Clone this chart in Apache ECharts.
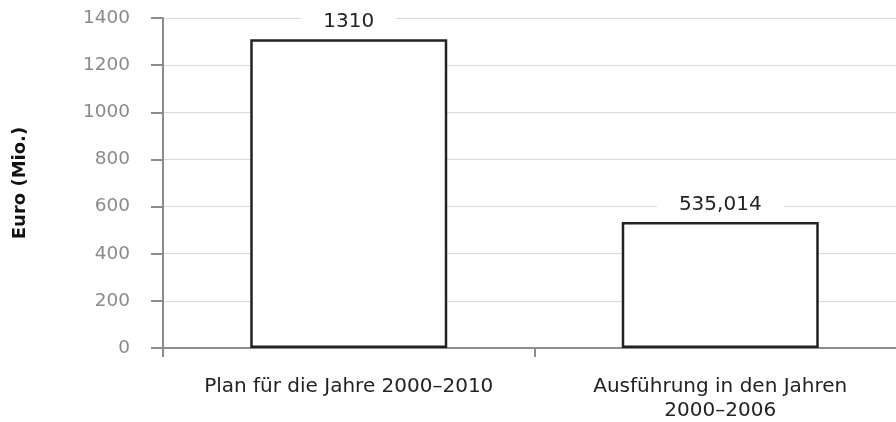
<!DOCTYPE html>
<html>
<head>
<meta charset="utf-8">
<script src="https://cdn.jsdelivr.net/npm/echarts@6/dist/echarts.min.js"></script>
<style>
  html, body { margin: 0; padding: 0; background: #fff; }
  #chart { width: 896px; height: 422px; }
</style>
</head>
<body>
<div id="chart"></div>
<script>
// Budget: planned vs. executed (million euro)
const categories = ['Plan für die Jahre 2000–2010', 'Ausführung in den Jahren\n2000–2006'];
const values = [1310, 535.014];
const valueLabels = ['1310', '535,014'];
const yTicks = [0, 200, 400, 600, 800, 1000, 1200, 1400];
const yAxisTitle = 'Euro (Mio.)';

const axisGray = '#8c8c8c';
const font = '"DejaVu Sans", sans-serif';

const chart = echarts.init(document.getElementById('chart'), null, { renderer: 'canvas' });
chart.setOption({
  animation: false,
  backgroundColor: '#ffffff',
  // plot area runs a little past the right edge of the canvas
  grid: { left: 163, top: 18, bottom: 74, right: -10, outerBoundsMode: 'none', containLabel: false },
  xAxis: {
    type: 'category',
    data: categories,
    boundaryGap: true,
    axisLine: { lineStyle: { color: axisGray, width: 2 } },
    axisTick: { show: true, length: 9, lineStyle: { color: axisGray, width: 2 } },
    axisLabel: {
      color: '#222', fontSize: 20, fontFamily: font, margin: 27,
      lineHeight: 24, interval: 0
    }
  },
  yAxis: {
    type: 'value',
    min: yTicks[0],
    max: yTicks[yTicks.length - 1],
    interval: 200,
    name: yAxisTitle,
    nameLocation: 'middle',
    nameGap: 134,
    nameTextStyle: { color: '#111', fontSize: 18, fontWeight: 'bold', fontFamily: font },
    axisLine: { show: true, lineStyle: { color: axisGray, width: 2 } },
    axisTick: { show: true, length: 12, lineStyle: { color: axisGray, width: 2 } },
    axisLabel: {
      color: '#8a8a8a', fontSize: 18.5, fontFamily: font, margin: 33,
      formatter: v => String(v)
    },
    splitLine: { lineStyle: { color: '#d9d9d9', width: 1 } }
  },
  series: [{
    type: 'bar',
    data: values,
    barWidth: 197,
    itemStyle: { color: '#ffffff', borderColor: '#222222', borderWidth: 2.5 },
    label: {
      show: true,
      position: 'top',
      distance: 5,
      color: '#222',
      fontSize: 20,
      fontFamily: font,
      backgroundColor: '#ffffff',
      padding: [2, 22, 2, 22],
      formatter: p => valueLabels[p.dataIndex]
    }
  }]
});
</script>
</body>
</html>
